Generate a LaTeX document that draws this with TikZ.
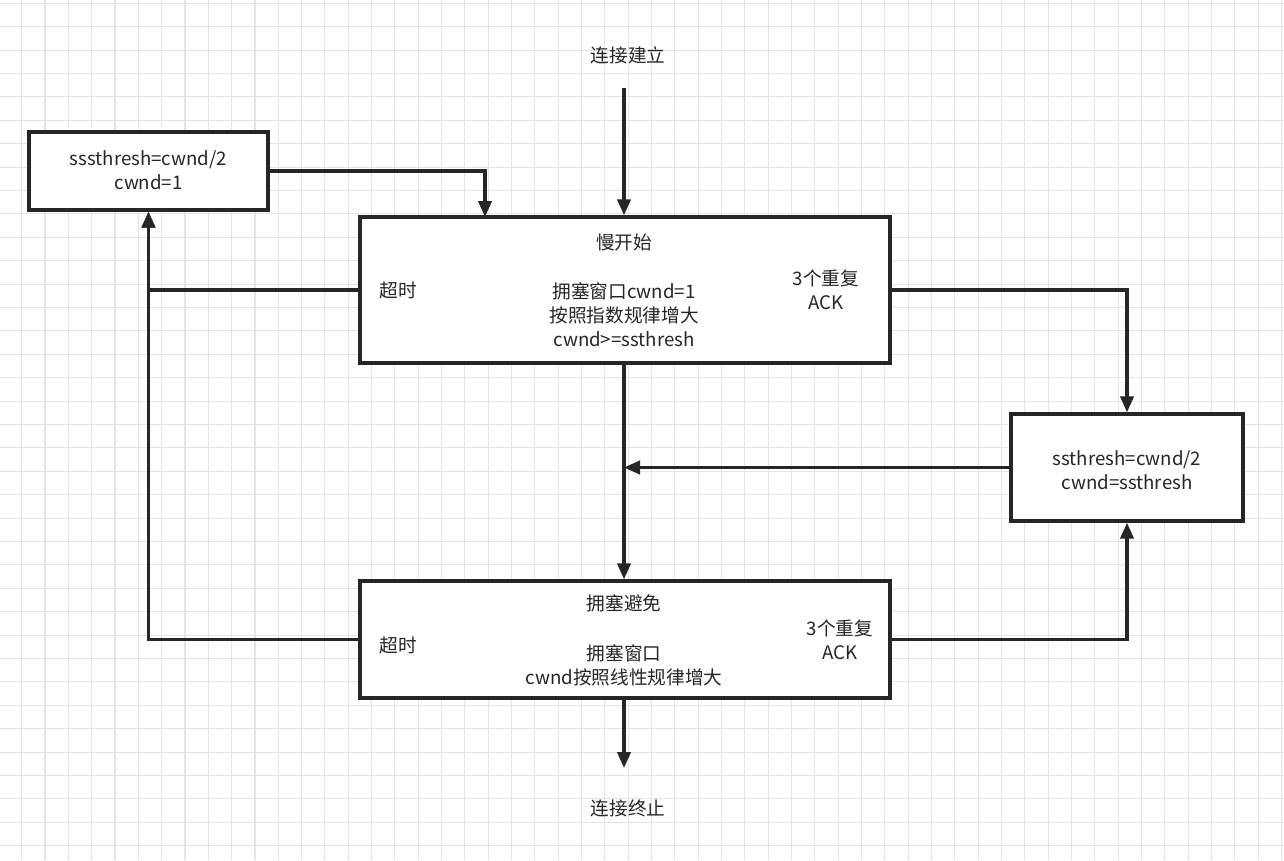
\documentclass[tikz,border=0pt]{standalone}
\usepackage{fontspec}
\setmainfont{Noto Sans CJK SC}
\usetikzlibrary{arrows.meta}
\definecolor{ink}{HTML}{262626}
\definecolor{gridc}{HTML}{E4E4E4}
\begin{document}
\begin{tikzpicture}[x=0.75pt,y=-0.75pt,
  box/.style={draw=ink,line width=2.6pt,fill=white,inner sep=0pt},
  lbl/.style={font=\fontsize{14pt}{18pt}\selectfont,text=ink,align=center,inner sep=0pt},
  conn/.style={draw=ink,line width=2.3pt},
  arr/.style={conn,-{Triangle[length=12pt,width=10pt]}}]
\useasboundingbox (0,0) rectangle (1284,860);
\fill[white] (0,0) rectangle (1284,860);
% grid
\foreach \i in {0,...,54} {\draw[gridc,line width=0.8pt] ({21.67+\i*23.33},0) -- ({21.67+\i*23.33},860);}
\foreach \i in {0,...,37} {\draw[gridc,line width=0.8pt] (0,{3.3+\i*23.4}) -- (1284,{3.3+\i*23.4});}
% boxes
\node[box,minimum width=530*0.75pt,minimum height=146*0.75pt] (ss) at (625,290) {};
\node[box,minimum width=530*0.75pt,minimum height=117*0.75pt] (ca) at (625,639.5) {};
\node[box,minimum width=239*0.75pt,minimum height=78*0.75pt] (lb) at (148.5,171) {};
\node[box,minimum width=232*0.75pt,minimum height=107*0.75pt] (rb) at (1127,467.5) {};
% texts
\node[lbl] (tstart) at (628,55) {连接建立};
\node[lbl] (tend) at (628,808) {连接终止};
\node[lbl] (lbt) at (148.5,170) {sssthresh=cwnd/2\\cwnd=1};
\node[lbl] (rbt) at (1127,470) {ssthresh=cwnd/2\\cwnd=ssthresh};
\node[lbl] (sst) at (624,242) {慢开始};
\node[lbl] (ssb) at (624,315) {拥塞窗口cwnd=1\\按照指数规律增大\\cwnd>=ssthresh};
\node[lbl] (sso) at (398,290) {超时};
\node[lbl] (ssa) at (826,290) {3个重复\\ACK};
\node[lbl] (cat) at (624,603) {拥塞避免};
\node[lbl] (cab) at (624,665) {拥塞窗口\\cwnd按照线性规律增大};
\node[lbl] (cao) at (398,645) {超时};
\node[lbl] (caa) at (840,640) {3个重复\\ACK};
% connectors
\coordinate (s0) at (624,88);
\coordinate (ssin) at (485,217);
\coordinate (e0) at (624,768);
\draw[arr] (s0) -- (s0 |- ss.north);
\draw[arr] (lb.east) -| (ssin);
\draw[arr] (ss.west) -| (lb.south);
\draw[arr] (ca.west) -| (lb.south);
\draw[arr] (ss.east) -| (rb.north);
\draw[arr] (ca.east) -| (rb.south);
\draw[arr] (s0 |- ss.south) -- (s0 |- ca.north);
\draw[arr] (rb.west) -- (s0 |- rb.west);
\draw[arr] (s0 |- ca.south) -- (e0);
\end{tikzpicture}
\end{document}
